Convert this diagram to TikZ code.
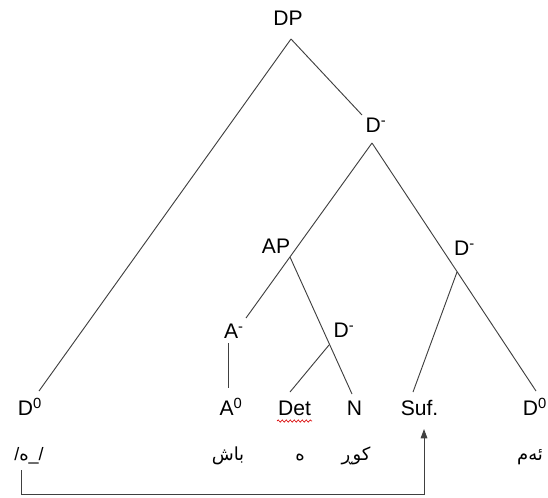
\documentclass[tikz,border=0pt]{standalone}
\usepackage{fontspec}
\setmainfont{Liberation Sans}
\newfontfamily\arabicfont[Script=Arabic]{DejaVu Sans}
\TeXXeTstate=1
\usetikzlibrary{arrows.meta,decorations.pathmorphing}
\begin{document}
\begin{tikzpicture}[x=0.75pt,y=-0.75pt,
  lbl/.style={font=\fontsize{15.8}{18}\selectfont, inner sep=0pt, anchor=base},
  ar/.style={font=\arabicfont\fontsize{13.5}{16}\selectfont, inner sep=0pt, anchor=base},
  br/.style={line width=0.7pt, draw=black!75},
  wavy/.style={draw=red!85!black, line width=0.5pt, decorate, decoration={snake, amplitude=0.8pt, segment length=3pt}}]
\useasboundingbox (0,0) rectangle (548,497);
% labels
\node[lbl] (DP) at (288,25) {DP};
\node[lbl] (D1) at (376,132) {D\textsuperscript{-}};
\node[lbl] (AP) at (276,253) {AP};
\node[lbl] (D3) at (464.5,255) {D\textsuperscript{-}};
\node[lbl] (Am) at (234,338) {A\textsuperscript{-}};
\node[lbl] (D2) at (344,337) {D\textsuperscript{-}};
\node[lbl] (D0L) at (30,415) {D\textsuperscript{0}};
\node[lbl] (A0) at (231,415) {A\textsuperscript{0}};
\node[lbl] (Det) at (294.5,415) {Det};
\node[lbl] (N) at (354.5,415) {N};
\node[lbl] (Suf) at (419.5,415) {Suf.};
\node[lbl] (D0R) at (535,415) {D\textsuperscript{0}};
% words
\node[lbl, font=\fontsize{13.5}{16}\selectfont] (w1) at (29,460) {/{\arabicfont ە}\_/};
\node[ar] (w2) at (228,460) {\beginR باش\endR};
\node[ar] (w3) at (300,460) {\beginR ە\endR};
\node[ar] (w4) at (356,460) {\beginR کوڕ\endR};
\node[ar] (w5) at (530,460) {\beginR ئەم\endR};
% branch points
\coordinate (DPa) at (291,39);
\coordinate (D1t) at (362,115);
\coordinate (D1a) at (372,143);
\coordinate (APj) at (290,257);
\coordinate (D2j) at (329,345);
\coordinate (D3j) at (457,272);
\coordinate (Amb) at (228,343);
\coordinate (D0Lt) at (39,391);
\coordinate (Amt) at (246,318);
\coordinate (D0Rt) at (536,391);
\coordinate (Nt) at (352,394);
\coordinate (Dett) at (290,392);
\coordinate (Suft) at (413,392);
\coordinate (A0t) at (228,388);
% branches
\draw[br] (DPa) -- (D0Lt);
\draw[br] (DPa) -- (D1t);
\draw[br] (D1a) -- (Amt);
\draw[br] (D1a) -- (D0Rt);
\draw[br] (APj) -- (Nt);
\draw[br] (D2j) -- (Dett);
\draw[br] (D3j) -- (Suft);
\draw[br] (Amb) -- (A0t);
% spell-check underline
\draw[wavy] (277,421) -- (312,421);
% arrow
\coordinate (arS) at (21,470);
\coordinate (arC) at (21,494);
\coordinate (arE) at (424,429);
\draw[br, -{Triangle[length=7pt,width=5pt]}] (arS) -- (arC) -| (arE);
\end{tikzpicture}
\end{document}
